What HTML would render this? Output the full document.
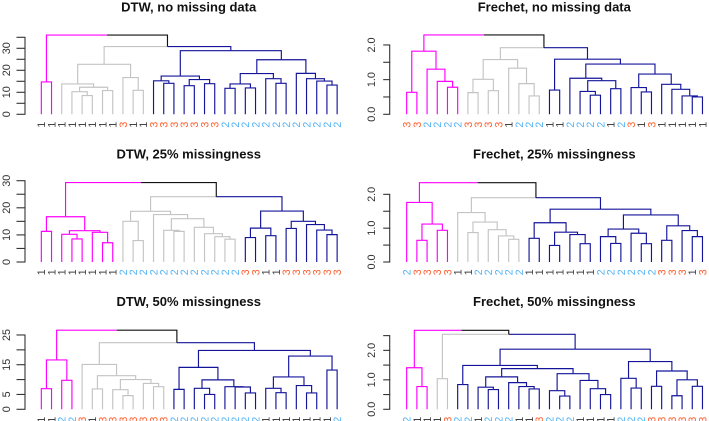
<!DOCTYPE html>
<html lang="en">
<head>
<meta charset="utf-8">
<title>Dendrograms: DTW and Frechet</title>
<style>
html,body{margin:0;padding:0;background:#fff}
#chart{display:block;width:709px;height:421px;overflow:hidden;filter:blur(0.3px)}
text{font-family:"Liberation Sans",Arial,sans-serif}
</style>
</head>
<body>
<svg id="chart" xmlns="http://www.w3.org/2000/svg" width="709" height="421" viewBox="0 0 709 421"></svg>
<script>
// Data: leaf labels in plot order, and merge trees as [height, left, right, cluster?]; 0 means a leaf.
const dtwNoneLabels = [1,1,1,1,1,1,1,1,3,1,1,3,3,3,3,3,3,3,2,2,2,2,2,2,2,2,2,2,2,2];
const dtwNoneTree = [36,
  [14.7,0,0,'p'],
  [30.8,
    [22.7,
      [13.8,0,[12.3,[10.3,0,[8.5,0,0]],[10.8,0,0]]],
      [16.7,0,[10.9,0,0]],'g'],
    [28.9,
      [17.4,[15.2,0,[14.1,0,0]],[15.8,[13,0,0],[13.9,0,0]]],
      [24.8,
        [18.5,[13.8,[11.8,0,0],[12,0,0]],[16.2,0,[14.1,0,0]]],
        [18.6,0,[16.2,0,[15.1,0,[13.3,0,0]]]]],'b']]];
const dtwNoneTicks = [0,5,10,15,20,25,30,35];
const dtwNoneTickLabels = ['0','','10','','20','','30',''];

const frechetNoneLabels = [3,3,2,2,2,2,3,3,3,3,1,2,2,2,1,1,2,2,2,2,1,2,3,1,3,1,1,1,1,1];
const frechetNoneTree = [2.29,
  [1.82,[0.635,0,0],[1.3,0,[0.95,0,[0.78,0,0]]],'p'],
  [1.92,
    [1.58,
      [1.01,[0.625,0,0],[0.68,0,0]],
      [1.33,0,[0.885,0,[0.53,0,0]]],'g'],
    [1.59,
      [0.7,0,0],
      [1.45,
        [1.04,0,[0.97,[0.66,0,[0.55,0,0]],[0.74,0,0]]],
        [1.16,[0.77,0,[0.645,0,0]],[0.865,0,[0.72,0,[0.53,0,[0.5,0,0]]]]]],'b']]];
const frechetNoneTicks = [0,0.5,1,1.5,2];
const frechetNoneTickLabels = ['0.0','','1.0','','2.0'];

const dtw25Labels = [1,1,1,1,1,1,1,1,2,2,2,2,2,2,2,2,2,2,2,2,3,3,1,1,3,3,3,3,3,3];
const dtw25Tree = [29.3,
  [16.7,[11.3,0,0],[11.56,[10.2,0,[8.5,0,0]],[10.95,0,[7.1,0,0]]],'p'],
  [24.1,
    [18.7,
      [15,0,[7.9,0,0]],
      [17.5,0,[16,[11.7,0,[11.3,0,0]],[12.8,0,[10.45,0,[9.35,0,[8.4,0,0]]]]]],'g'],
    [18.8,
      [12.5,[9,0,0],[9.7,0,0]],
      [15,[12.4,0,0],[13.8,0,[11.8,0,[10.1,0,0]]]],'b']]];
const dtw25Ticks = [0,5,10,15,20,25,30];
const dtw25TickLabels = ['0','','10','','20','','30'];

const frechet25Labels = [2,3,3,3,3,1,1,2,2,2,2,2,1,1,1,1,1,1,1,2,2,2,2,2,2,3,3,3,1,3];
const frechet25Tree = [2.345,
  [1.76,0,[1.12,[0.64,0,0],[0.936,0,0]],'p'],
  [1.9,
    [1.46,0,[1.18,[0.87,0,0],[0.955,0,[0.77,0,[0.67,0,0]]]],'g'],
    [1.56,
      [1.16,[0.7,0,0],[0.88,[0.49,0,0],[0.81,0,[0.54,0,0]]]],
      [1.39,
        [0.975,[0.75,0,[0.55,0,0]],[0.85,0,[0.54,0,0]]],
        [1.07,[0.64,0,0],[0.93,0,[0.75,0,0]]]],'b']]];
const frechet25Ticks = [0,0.5,1,1.5,2];
const frechet25TickLabels = ['0.0','','1.0','','2.0'];

const dtw50Labels = [1,1,2,2,3,1,3,3,3,3,3,3,3,2,2,2,2,2,2,2,2,2,1,1,1,1,1,1,1,2];
const dtw50Tree = [26.6,
  [16.6,[6.95,0,0],[9.75,0,0],'p'],
  [22.4,
    [15.1,0,[11.3,[6.85,0,0],[10,[6.6,0,[4.6,0,0]],[8.7,0,[7.6,0,0]]]],'g'],
    [19.8,
      [14.1,[6.7,0,0],[9.9,[7.05,0,[5,0,0]],[7.6,0,[7.5,0,[5.5,0,0]]]]],
      [17.9,
        [10.9,[7.05,0,[5.6,0,0]],[8,0,[5.5,0,0]]],
        [13.2,0,0]],'b']]];
const dtw50Ticks = [0,5,10,15,20,25];
const dtw50TickLabels = ['0','5','','15','','25'];

const frechet50Labels = [2,1,1,1,3,2,2,1,2,2,2,1,1,3,2,2,2,1,1,1,1,2,2,2,3,3,3,3,3,3];
const frechet50Tree = [2.68,
  [1.41,0,[0.77,0,0],'p'],
  [2.545,
    [1.04,0,0,'g'],
    [2.04,
      [1.49,
        [0.84,0,0],
        [1.38,
          [1.1,[0.75,0,[0.67,0,0]],[0.905,0,[0.77,0,[0.69,0,0]]]],
          [1.21,[0.63,0,[0.45,0,0]],[0.98,0,[0.7,0,[0.5,0,0]]]]]],
      [1.62,
        [1.05,0,[0.72,0,0]],
        [1.3,[0.78,0,0],[1,[0.46,0,0],[0.78,0,0]]]],'b']]];
const frechet50Ticks = [0,0.5,1,1.5,2,2.5];
const frechet50TickLabels = ['0.0','','1.0','','2.0',''];

// Presentation
const clusterColors = {p:'#ff00ff', g:'#c4c4c4', b:'#14149a', root:'#111111'};
const labelColors = {1:'#444444', 2:'#55b4f5', 3:'#ff6030'};
const svg = document.getElementById('chart');
const NS = 'http://www.w3.org/2000/svg';

function make(tag, attrs, parent) {
  const el = document.createElementNS(NS, tag);
  for (const k in attrs) el.setAttribute(k, attrs[k]);
  parent.appendChild(el);
  return el;
}

function drawPanel(slug, title, labels, tree, ticks, tickLabels, box) {
  const g = make('g', {}, svg);
  
  

  const xScale = i => box.x0 + box.dx * i;
  const yScale = v => box.y0 - box.k * v;

  const t = make('text', {x: box.titleX, y: box.titleY, 'text-anchor': 'middle', 'font-size': 13, 'font-weight': 'bold', fill: '#111'}, g);
  
  
  t.textContent = title;

  const axis = make('g', {}, g);
  
  
  make('line', {x1: box.axisX, x2: box.axisX, y1: yScale(ticks[0]), y2: yScale(ticks[ticks.length - 1]), stroke: '#333', 'stroke-width': 1.1}, axis);
  ticks.forEach((v, i) => {
    const y = yScale(v);
    const tick = make('line', {x1: box.axisX - box.tickLen, x2: box.axisX + 0.5, y1: y, y2: y, stroke: '#333', 'stroke-width': 1.1}, axis);
    
    
    if (tickLabels[i]) {
      const lab = make('text', {transform: 'translate(' + box.tickTextX + ',' + y + ') rotate(-90)', 'text-anchor': 'middle', 'font-size': 10.8, fill: '#333'}, axis);
      
      
      lab.textContent = tickLabels[i];
    }
  });

  const leafY = yScale(0);
  let nextLeaf = 0;
  const seg = make('g', {fill: 'none', 'stroke-width': 1.15}, g);
  
  

  function place(node, color) {
    if (!node) {
      const idx = nextLeaf++;
      return {x: xScale(idx), y: leafY, color: color, idx: idx};
    }
    const c = node[3] ? clusterColors[node[3]] : color;
    const l = place(node[1], c);
    const r = place(node[2], c);
    const x = (l.x + r.x) / 2;
    const y = yScale(node[0]);
    [[l, 'left'], [r, 'right']].forEach(pair => {
      const child = pair[0];
      const p = make('path', {d: 'M' + x + ' ' + y + 'H' + child.x + 'V' + child.y, stroke: child.color}, seg);
      
      
    });
    return {x: x, y: y, color: c};
  }
  place(tree, clusterColors.root);

  labels.forEach((v, i) => {
    const lab = make('text', {transform: 'translate(' + (xScale(i) + 3.9) + ',' + (leafY + 7.4) + ') rotate(-90)', 'text-anchor': 'end', 'font-size': 10.6, fill: labelColors[v]}, g);
    
    
    lab.textContent = v;
  });
}

const left = {x0: 41.33, dx: 10.2, axisX: 25, tickLen: 8.5, tickTextX: 10, titleX: 188.7};
const right = {x0: 406.67, dx: 10.2, axisX: 389.7, tickLen: 6.5, tickTextX: 375, titleX: 554.3};

drawPanel('dtw-no-missing', 'DTW, no missing data', dtwNoneLabels, dtwNoneTree, dtwNoneTicks, dtwNoneTickLabels,
  Object.assign({}, left, {y0: 114.3, k: 2.2, titleY: 11.5}));
drawPanel('frechet-no-missing', 'Frechet, no missing data', frechetNoneLabels, frechetNoneTree, frechetNoneTicks, frechetNoneTickLabels,
  Object.assign({}, right, {y0: 114.3, k: 34.67, titleY: 11.5}));
drawPanel('dtw-25-missing', 'DTW, 25% missingness', dtw25Labels, dtw25Tree, dtw25Ticks, dtw25TickLabels,
  Object.assign({}, left, {y0: 262, k: 2.71, titleY: 158.5}));
drawPanel('frechet-25-missing', 'Frechet, 25% missingness', frechet25Labels, frechet25Tree, frechet25Ticks, frechet25TickLabels,
  Object.assign({}, right, {y0: 262, k: 33.83, titleY: 158.5}));
drawPanel('dtw-50-missing', 'DTW, 50% missingness', dtw50Labels, dtw50Tree, dtw50Ticks, dtw50TickLabels,
  Object.assign({}, left, {y0: 409.3, k: 2.973, titleY: 306}));
drawPanel('frechet-50-missing', 'Frechet, 50% missingness', frechet50Labels, frechet50Tree, frechet50Ticks, frechet50TickLabels,
  Object.assign({}, right, {y0: 409.3, k: 29.47, titleY: 306}));
</script>
</body>
</html>
